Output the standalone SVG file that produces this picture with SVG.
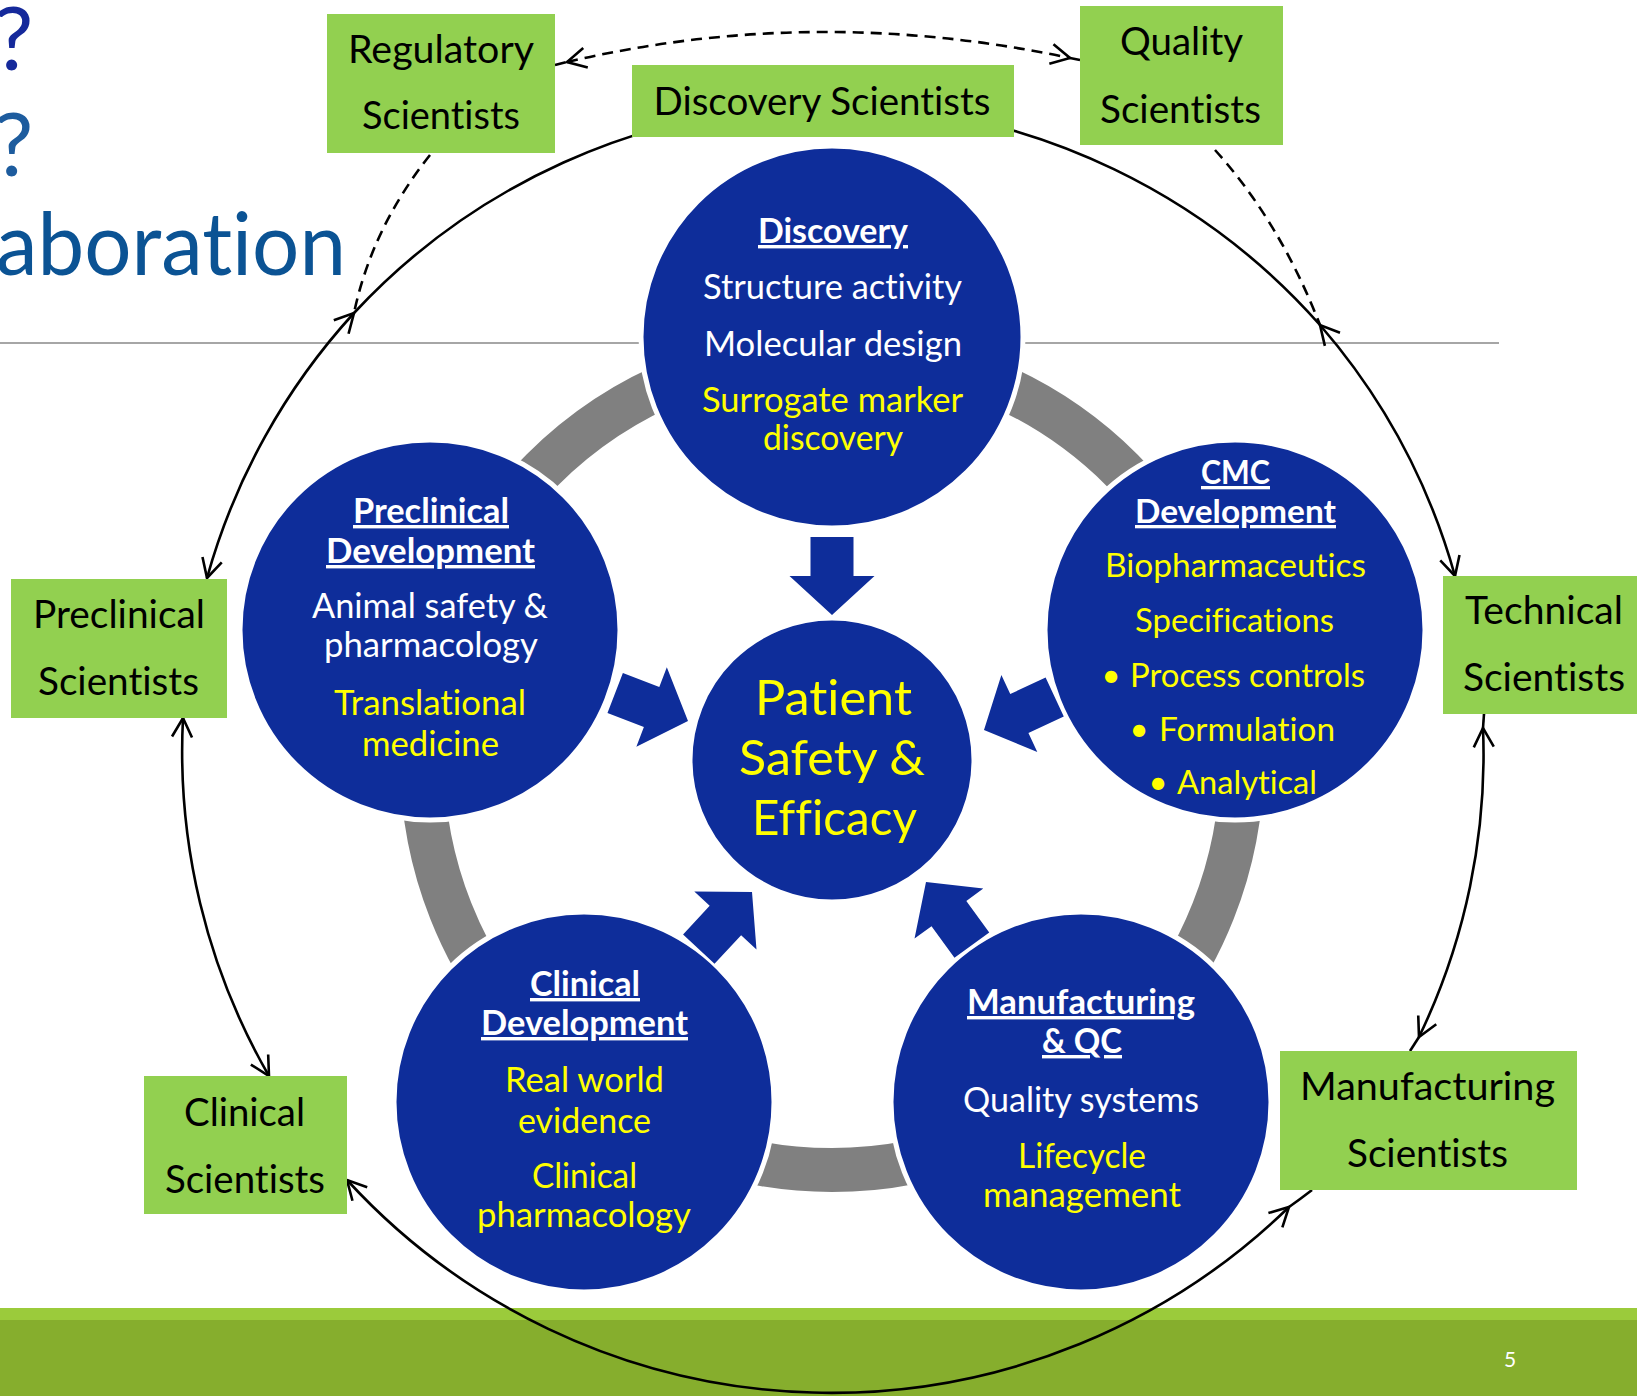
<svg xmlns="http://www.w3.org/2000/svg" width="1637" height="1396" viewBox="0 0 1637 1396">
  <style>
    text { font-variant-ligatures: none; }
    .txt { font-family: Lato, "Liberation Sans", sans-serif; text-anchor: middle; }
    .box { fill: #92D050; }
    .lbl { font-size: 39px; fill: #000; }
    .node { fill: #0E2D9A; stroke: #fff; stroke-width: 5; }
    .t { font-size: 34px; }
    .cmc { font-size: 33px; }
    .w { fill: #fff; }
    .y { fill: #FFFF00; }
    .hd { font-weight: bold; text-decoration: underline; }
    .pat { font-size: 49px; fill: #FFFF00; }
    .blk { fill: #0E2D9A; }
    .conn { fill: none; stroke: #000; stroke-width: 2.6; }
    .dash { stroke-dasharray: 11 7; }
  </style>
  <defs>
    <marker id="head" markerUnits="userSpaceOnUse" markerWidth="40" markerHeight="40" viewBox="-24 -20 40 40" refX="0" refY="0" orient="auto-start-reverse" overflow="visible">
      <path d="M-19,-10 L0,0 L-19,10" fill="none" stroke="#000" stroke-width="2.6" stroke-linejoin="miter"/>
    </marker>
    <path id="blockArrow" d="M-21.5,-78 L21.5,-78 L21.5,-39 L42.5,-39 L0,0 L-42.5,-39 L-21.5,-39 Z"/>
  </defs>

  <!-- page background -->
  <rect x="0" y="0" width="1637" height="1396" fill="#fff"/>

  <!-- slide title fragments and rule -->
  <g id="title" class="txt" style="text-anchor:start">
    <text x="-6" y="70" font-size="88" fill="#15299B">?</text>
    <text x="-6" y="176" font-size="88" fill="#1D5C9E">?</text>
    <text x="-4" y="275" font-size="88" fill="#0B5394" textLength="350" lengthAdjust="spacingAndGlyphs">aboration</text>
  </g>
  <line x1="0" y1="343" x2="1499" y2="343" stroke="#A6A6A6" stroke-width="2"/>

  <!-- footer band -->
  <rect x="0" y="1308" width="1637" height="12" fill="#9BCB3B"/>
  <rect x="0" y="1320" width="1637" height="76" fill="#86AE2D"/>
  <text class="txt" x="1510" y="1367" font-size="21" fill="#fff">5</text>

  <!-- grey cycle ring -->
  <circle cx="832" cy="760" r="410" fill="none" stroke="#808080" stroke-width="44"/>

  <!-- stage circles -->
  <g id="discovery" class="txt">
    <circle class="node" cx="832" cy="337" r="191"/>
    <text class="t w hd" x="833" y="243" textLength="150" lengthAdjust="spacingAndGlyphs">Discovery</text>
    <text class="t w" x="832.5" y="299" textLength="259" lengthAdjust="spacingAndGlyphs">Structure activity</text>
    <text class="t w" x="833" y="356" textLength="258" lengthAdjust="spacingAndGlyphs">Molecular design</text>
    <text class="t y" x="832.5" y="412" textLength="261" lengthAdjust="spacingAndGlyphs">Surrogate marker</text>
    <text class="t y" x="833" y="450" textLength="140" lengthAdjust="spacingAndGlyphs">discovery</text>
  </g>

  <g id="preclinical" class="txt">
    <circle class="node" cx="430" cy="630" r="190"/>
    <text class="t w hd" x="431" y="523" textLength="156" lengthAdjust="spacingAndGlyphs">Preclinical</text>
    <text class="t w hd" x="430.5" y="563" textLength="209" lengthAdjust="spacingAndGlyphs">Development</text>
    <text class="t w" x="430" y="618" textLength="236" lengthAdjust="spacingAndGlyphs">Animal safety &amp;</text>
    <text class="t w" x="431" y="657" textLength="214" lengthAdjust="spacingAndGlyphs">pharmacology</text>
    <text class="t y" x="430" y="715" textLength="192" lengthAdjust="spacingAndGlyphs">Translational</text>
    <text class="t y" x="430.5" y="756" textLength="137" lengthAdjust="spacingAndGlyphs">medicine</text>
  </g>

  <g id="cmc" class="txt">
    <circle class="node" cx="1235" cy="630" r="190"/>
    <text class="cmc w hd" x="1235.5" y="484" textLength="69" lengthAdjust="spacingAndGlyphs">CMC</text>
    <text class="cmc w hd" x="1235.5" y="523" textLength="201" lengthAdjust="spacingAndGlyphs">Development</text>
    <text class="cmc y" x="1235.5" y="577" textLength="261" lengthAdjust="spacingAndGlyphs">Biopharmaceutics</text>
    <text class="cmc y" x="1234.5" y="632" textLength="199" lengthAdjust="spacingAndGlyphs">Specifications</text>
    <text class="cmc y" x="1111" y="687">•</text>
    <text class="cmc y" x="1247.5" y="687" textLength="235" lengthAdjust="spacingAndGlyphs">Process controls</text>
    <text class="cmc y" x="1139" y="741">•</text>
    <text class="cmc y" x="1247" y="741" textLength="176" lengthAdjust="spacingAndGlyphs">Formulation</text>
    <text class="cmc y" x="1158" y="794">•</text>
    <text class="cmc y" x="1247" y="794" textLength="140" lengthAdjust="spacingAndGlyphs">Analytical</text>
  </g>

  <g id="clinical" class="txt">
    <circle class="node" cx="584" cy="1102" r="190"/>
    <text class="t w hd" x="585" y="996" textLength="110" lengthAdjust="spacingAndGlyphs">Clinical</text>
    <text class="t w hd" x="584.5" y="1035" textLength="207" lengthAdjust="spacingAndGlyphs">Development</text>
    <text class="t y" x="584.5" y="1092" textLength="159" lengthAdjust="spacingAndGlyphs">Real world</text>
    <text class="t y" x="584.5" y="1133" textLength="133" lengthAdjust="spacingAndGlyphs">evidence</text>
    <text class="t y" x="584.5" y="1188" textLength="105" lengthAdjust="spacingAndGlyphs">Clinical</text>
    <text class="t y" x="584" y="1227" textLength="214" lengthAdjust="spacingAndGlyphs">pharmacology</text>
  </g>

  <g id="manufacturing" class="txt">
    <circle class="node" cx="1081" cy="1102" r="190"/>
    <text class="t w hd" x="1081" y="1014" textLength="228" lengthAdjust="spacingAndGlyphs">Manufacturing</text>
    <text class="t w hd" x="1082" y="1053" textLength="80" lengthAdjust="spacingAndGlyphs">&amp; QC</text>
    <text class="t w" x="1081" y="1112" textLength="236" lengthAdjust="spacingAndGlyphs">Quality systems</text>
    <text class="t y" x="1082" y="1168" textLength="128" lengthAdjust="spacingAndGlyphs">Lifecycle</text>
    <text class="t y" x="1082" y="1207" textLength="198" lengthAdjust="spacingAndGlyphs">management</text>
  </g>

  <g id="patient" class="txt">
    <circle class="node" cx="832" cy="760" r="142" stroke-width="0"/>
    <text class="pat" x="833.5" y="715" textLength="157" lengthAdjust="spacingAndGlyphs">Patient</text>
    <text class="pat" x="832" y="775" textLength="186" lengthAdjust="spacingAndGlyphs">Safety &amp;</text>
    <text class="pat" x="834.5" y="835" textLength="165" lengthAdjust="spacingAndGlyphs">Efficacy</text>
  </g>

  <!-- block arrows feeding the centre -->
  <g id="feed-arrows" class="blk">
    <use href="#blockArrow" transform="translate(832,615)"/>
    <use href="#blockArrow" transform="translate(688,721) rotate(-69)"/>
    <use href="#blockArrow" transform="translate(984,730) rotate(65)"/>
    <use href="#blockArrow" transform="translate(752,892) rotate(-137)"/>
    <use href="#blockArrow" transform="translate(926,882) rotate(144)"/>
  </g>

  <!-- connectors between scientist groups -->
  <g id="connectors">
    <path class="conn" d="M354,313 A652,652 0 0 1 1320,325"/>
    <path class="conn" d="M354,313 A652,652 0 0 0 207,578" marker-start="url(#head)" marker-end="url(#head)"/>
    <path class="conn" d="M1320,325 A652,652 0 0 1 1455,576" marker-start="url(#head)" marker-end="url(#head)"/>
    <path class="conn" d="M183,718 A650,650 0 0 0 269,1076" marker-start="url(#head)" marker-end="url(#head)"/>
    <path class="conn" d="M1484,714 L1483,728"/>
    <path class="conn" d="M1483,728 A650,650 0 0 1 1419,1037" marker-start="url(#head)" marker-end="url(#head)"/>
    <path class="conn" d="M1419,1037 L1410,1051"/>
    <path class="conn" d="M347,1180 A657,657 0 0 0 1289,1207" marker-start="url(#head)" marker-end="url(#head)"/>
    <path class="conn" d="M1289,1207 A657,657 0 0 0 1312,1190"/>
    <path class="conn dash" d="M555,65 L567,62"/>
    <path class="conn dash" d="M567,62 Q815,4 1070,58" marker-start="url(#head)" marker-end="url(#head)"/>
    <path class="conn dash" d="M1070,58 L1080,60"/>
    <path class="conn dash" d="M430,155 Q372,228 354,313"/>
    <path class="conn dash" d="M1215,150 Q1280,222 1320,325"/>
  </g>

  <!-- scientist groups -->
  <g id="regulatory" class="txt">
    <rect class="box" x="327" y="14" width="228" height="139"/>
    <text class="lbl" x="441" y="63" textLength="186" lengthAdjust="spacingAndGlyphs">Regulatory</text>
    <text class="lbl" x="441" y="129" textLength="158" lengthAdjust="spacingAndGlyphs">Scientists</text>
  </g>
  <g id="quality" class="txt">
    <rect class="box" x="1080" y="6" width="203" height="139"/>
    <text class="lbl" x="1181.5" y="55" textLength="123" lengthAdjust="spacingAndGlyphs">Quality</text>
    <text class="lbl" x="1180.5" y="123" textLength="161" lengthAdjust="spacingAndGlyphs">Scientists</text>
  </g>
  <g id="discovery-sci" class="txt">
    <rect class="box" x="632" y="65" width="382" height="72"/>
    <text class="lbl" x="822" y="115" textLength="337" lengthAdjust="spacingAndGlyphs">Discovery Scientists</text>
  </g>
  <g id="preclinical-sci" class="txt">
    <rect class="box" x="11" y="579" width="216" height="139"/>
    <text class="lbl" x="119" y="628" textLength="172" lengthAdjust="spacingAndGlyphs">Preclinical</text>
    <text class="lbl" x="118.5" y="695" textLength="161" lengthAdjust="spacingAndGlyphs">Scientists</text>
  </g>
  <g id="technical-sci" class="txt">
    <rect class="box" x="1443" y="576" width="194" height="138"/>
    <text class="lbl" x="1544" y="624" textLength="158" lengthAdjust="spacingAndGlyphs">Technical</text>
    <text class="lbl" x="1544" y="691" textLength="162" lengthAdjust="spacingAndGlyphs">Scientists</text>
  </g>
  <g id="clinical-sci" class="txt">
    <rect class="box" x="144" y="1076" width="203" height="138"/>
    <text class="lbl" x="244.5" y="1126" textLength="121" lengthAdjust="spacingAndGlyphs">Clinical</text>
    <text class="lbl" x="245" y="1193" textLength="160" lengthAdjust="spacingAndGlyphs">Scientists</text>
  </g>
  <g id="manufacturing-sci" class="txt">
    <rect class="box" x="1280" y="1051" width="297" height="139"/>
    <text class="lbl" x="1427.5" y="1100" textLength="255" lengthAdjust="spacingAndGlyphs">Manufacturing</text>
    <text class="lbl" x="1427.5" y="1167" textLength="161" lengthAdjust="spacingAndGlyphs">Scientists</text>
  </g>
</svg>
